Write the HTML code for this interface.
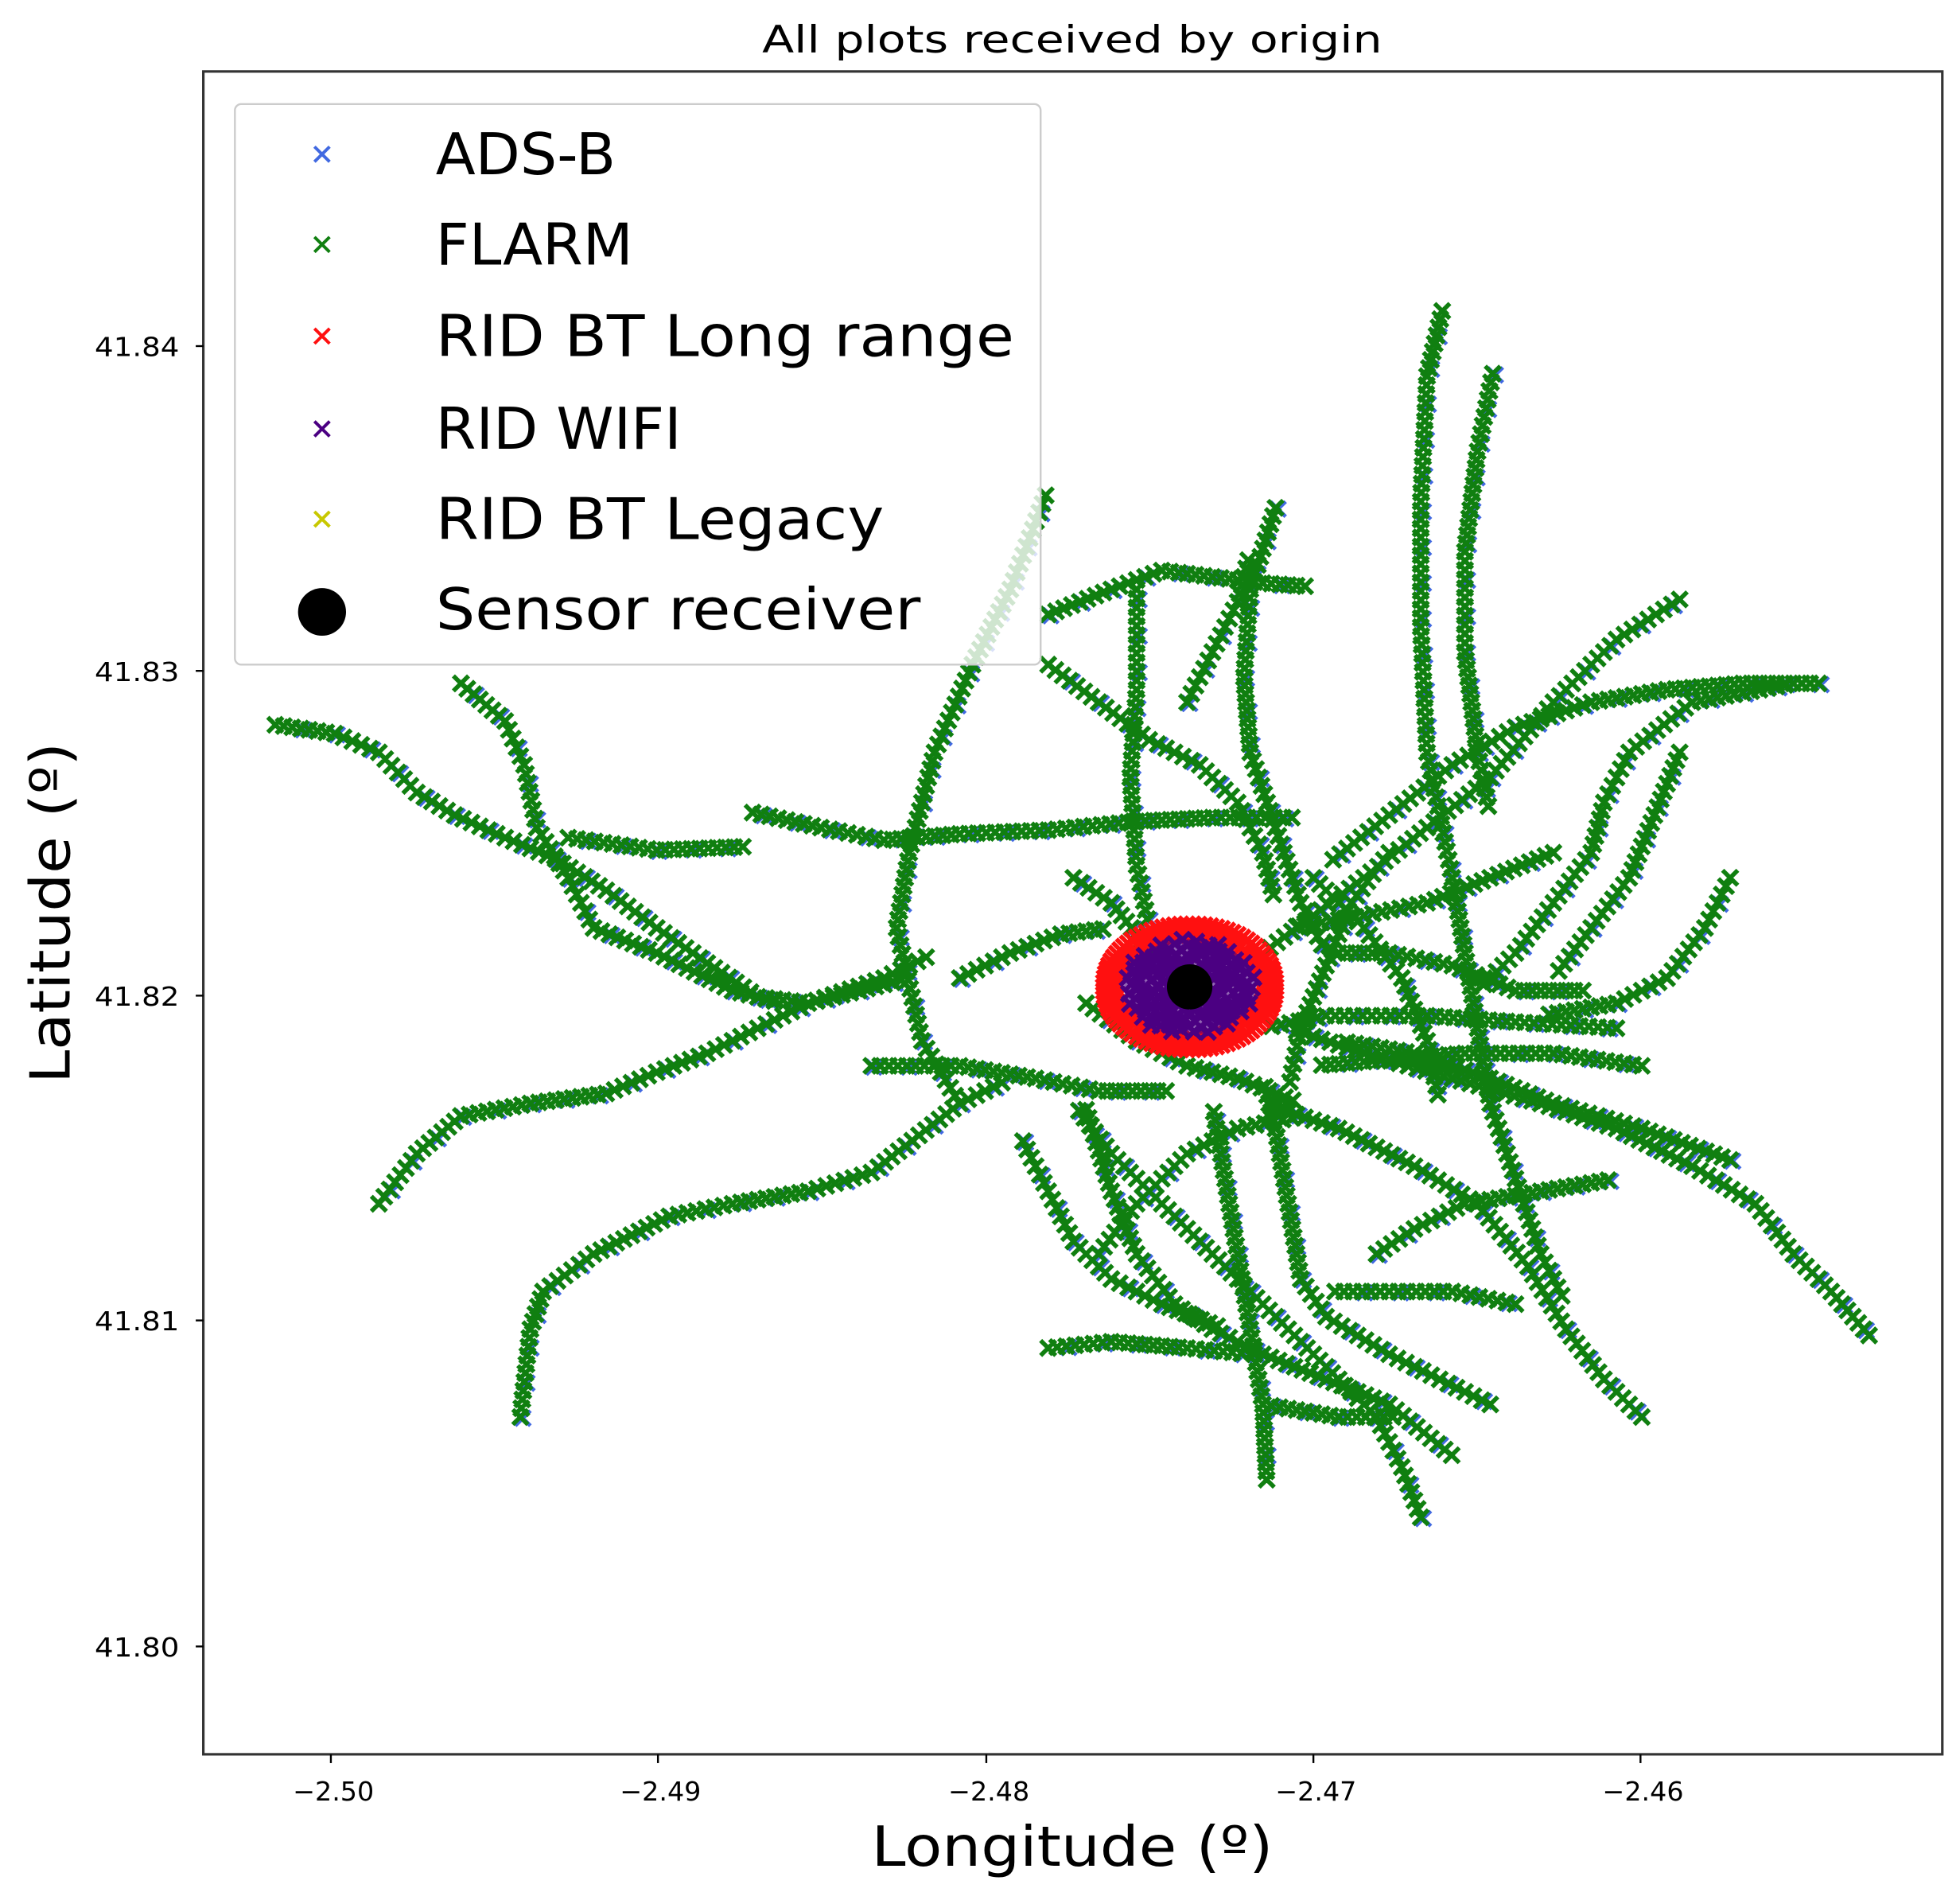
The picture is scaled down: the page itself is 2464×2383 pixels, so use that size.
<!DOCTYPE html>
<html><head><meta charset="utf-8"><style>html,body{margin:0;padding:0;background:#fff}svg{display:block}</style></head>
<body>
<svg id="s" width="2464" height="2383" viewBox="0 0 1552 1512" preserveAspectRatio="none" xmlns="http://www.w3.org/2000/svg" font-family="DejaVu Sans, Liberation Sans, sans-serif">
<rect width="1552" height="1512" fill="#fff"/>
<text x="849" y="42" font-size="30" text-anchor="middle" textLength="491" lengthAdjust="spacingAndGlyphs">All plots received by origin</text>
<g id="data"></g>
<rect x="161" y="57" width="1377" height="1342" fill="none" stroke="#333" stroke-width="2"/>
<g stroke="#000" stroke-width="1.5">
<line x1="155" y1="276" x2="161" y2="276"/><line x1="155" y1="535" x2="161" y2="535"/><line x1="155" y1="794" x2="161" y2="794"/><line x1="155" y1="1053" x2="161" y2="1053"/><line x1="155" y1="1313" x2="161" y2="1313"/>
<line x1="262" y1="1399" x2="262" y2="1406"/><line x1="521" y1="1399" x2="521" y2="1406"/><line x1="781" y1="1399" x2="781" y2="1406"/><line x1="1040" y1="1399" x2="1040" y2="1406"/><line x1="1299" y1="1399" x2="1299" y2="1406"/>
</g>
<g font-size="21" text-anchor="end">
<text x="142" y="284" textLength="67" lengthAdjust="spacingAndGlyphs">41.84</text>
<text x="142" y="543" textLength="67" lengthAdjust="spacingAndGlyphs">41.83</text>
<text x="142" y="802" textLength="67" lengthAdjust="spacingAndGlyphs">41.82</text>
<text x="142" y="1061" textLength="67" lengthAdjust="spacingAndGlyphs">41.81</text>
<text x="142" y="1321" textLength="67" lengthAdjust="spacingAndGlyphs">41.80</text>
</g>
<g font-size="21" text-anchor="middle">
<text x="264" y="1436">−2.50</text><text x="523" y="1436">−2.49</text><text x="783" y="1436">−2.48</text><text x="1042" y="1436">−2.47</text><text x="1301" y="1436">−2.46</text>
</g>
<text x="849" y="1488" font-size="44" text-anchor="middle" textLength="318" lengthAdjust="spacingAndGlyphs">Longitude (º)</text>
<text transform="translate(55,728) rotate(-90)" font-size="44" text-anchor="middle" textLength="272" lengthAdjust="spacingAndGlyphs">Latitude (º)</text>
<rect x="186" y="83" width="638" height="447" rx="5" fill="#fff" fill-opacity="0.8" stroke="#ccc" stroke-width="1.5"/>
<g stroke-width="2.5">
<path d="M249,117l12,12M261,117l-12,12" stroke="#4169e1"/>
<path d="M249,189l12,12M261,189l-12,12" stroke="#107f10"/>
<path d="M249,262l12,12M261,262l-12,12" stroke="#ff1010"/>
<path d="M249,336l12,12M261,336l-12,12" stroke="#4b0082"/>
<path d="M249,408l12,12M261,408l-12,12" stroke="#c8c800"/>
</g>
<ellipse cx="255" cy="488" rx="19" ry="19" fill="#000"/>
<g font-size="46">
<text x="345" y="139">ADS-B</text>
<text x="345" y="211">FLARM</text>
<text x="345" y="284" textLength="458" lengthAdjust="spacingAndGlyphs">RID BT Long range</text>
<text x="345" y="358">RID WIFI</text>
<text x="345" y="430" textLength="355" lengthAdjust="spacingAndGlyphs">RID BT Legacy</text>
<text x="345" y="502" textLength="384" lengthAdjust="spacingAndGlyphs">Sensor receiver</text>
</g>
</svg>
<script>
var P=[
[[218,578],[265,585],[300,600],[330,632],[360,650],[400,668],[440,685],[480,710],[520,740],[560,768],[600,795],[640,800],[680,790],[720,780]],
[[300,960],[330,920],[365,890],[420,880],[480,872],[520,855],[560,840],[600,820],[640,800],[700,780],[740,760]],
[[412,1130],[420,1060],[430,1030],[470,1000],[530,970],[580,960],[640,950],[690,935],[760,880],[800,860]],
[[365,545],[400,575],[415,610],[425,660],[450,700],[470,740],[520,760],[580,790],[620,800]],
[[450,668],[520,678],[595,675]],
[[596,648],[650,660],[700,670],[760,665],[830,662],[900,655],[960,652],[1030,652]],
[[828,395],[800,470],[770,530],[740,600],[720,680],[710,740],[730,830],[760,880]],
[[830,490],[880,470],[920,455],[960,460],[1000,465],[1040,468]],
[[1010,405],[990,470],[985,540],[990,600],[1010,660],[1030,720],[1050,760]],
[[1142,248],[1130,300],[1125,400],[1125,500],[1130,600],[1140,650],[1150,700],[1160,760],[1170,820],[1180,880],[1200,940],[1220,1000],[1240,1040]],
[[1182,298],[1170,360],[1160,440],[1160,520],[1170,600],[1180,650]],
[[1330,478],[1280,510],[1230,560],[1180,620],[1130,660],[1080,700],[1040,730],[1000,760]],
[[1440,545],[1380,545],[1320,550],[1260,560],[1200,580],[1150,610],[1100,650],[1050,690]],
[[1420,545],[1340,560],[1290,600],[1270,640],[1260,680],[1230,720],[1200,760],[1170,790]],
[[1480,1065],[1450,1030],[1420,1000],[1390,960],[1340,930],[1280,900],[1220,880],[1150,860],[1080,840],[1020,820]],
[[1300,1130],[1270,1100],[1240,1060],[1210,1010],[1170,960],[1120,930],[1060,900],[1000,880]],
[[1125,1210],[1110,1170],[1090,1130],[1060,1100],[1030,1070],[1000,1040],[960,1000],[920,960],[880,920],[850,880]],
[[1003,1180],[1000,1120],[990,1060],[980,1000],[970,940],[960,880]],
[[830,1075],[880,1070],[940,1075],[990,1080]],
[[860,885],[880,950],[900,1000],[930,1040],[960,1060],[1000,1080],[1050,1100],[1100,1120],[1155,1165]],
[[1180,1120],[1140,1100],[1100,1080],[1050,1050],[1030,1020],[1020,960],[1010,900],[1000,860]],
[[810,910],[830,950],[850,990],[880,1020],[920,1040],[970,1060]],
[[1370,925],[1300,900],[1230,880],[1180,860],[1120,840],[1060,830]],
[[1280,820],[1200,815],[1130,810],[1050,810],[1000,820]],
[[1300,850],[1230,840],[1160,840],[1100,845],[1040,850]],
[[690,850],[760,850],[820,860],[870,870],[930,870]],
[[850,700],[880,720],[900,745],[910,770]],
[[830,530],[870,560],[910,590],[950,610],[980,640],[1000,680],[1010,720]],
[[900,470],[900,550],[895,620],[900,690],[910,740]],
[[1230,680],[1180,700],[1130,720],[1080,730],[1020,740]],
[[1370,700],[1350,740],[1320,780],[1280,800],[1220,810]],
[[1330,600],[1310,650],[1290,700],[1260,740],[1230,780]],
[[1000,1120],[1060,1130],[1110,1130]],
[[1200,1040],[1150,1030],[1100,1030],[1050,1030]],
[[1040,700],[1080,740],[1110,780],[1130,830],[1140,880]],
[[1100,680],[1070,720],[1050,770],[1030,820],[1020,870]],
[[760,780],[800,760],[840,745],[880,740]],
[[1060,760],[1100,760],[1150,770],[1200,790],[1260,790]],
[[870,1000],[900,960],[940,920],[980,900],[1030,890]],
[[1090,1000],[1120,980],[1160,960],[1220,950],[1280,940]],
[[860,800],[900,830],[940,850],[980,860],[1030,880]],
[[940,560],[960,520],[980,480],[990,440]]
];
var g='',b='';
function X(x,y,s){return 'M'+(x-s)+','+(y-s)+'l'+(2*s)+','+(2*s)+'M'+(x+s)+','+(y-s)+'l'+(-2*s)+','+(2*s);}
var k=0;
P.forEach(function(p){for(var i=0;i<p.length-1;i++){var a=p[i],c=p[i+1],dx=c[0]-a[0],dy=c[1]-a[1],L=Math.hypot(dx,dy),n=Math.max(1,Math.round(L/7));for(var j=0;j<n;j++){var x=a[0]+dx*j/n,y=a[1]+dy*j/n;k++;if(k%4==0)b+=X(x+2,y+1,6);g+=X(x,y,6);}}});
var r='',pu='';
for(var t=0;t<360;t+=4){var a=t*Math.PI/180;r+=X(942+68*Math.cos(a),787+50*Math.sin(a),6);r+=X(942+60*Math.cos(a),787+42*Math.sin(a),6);}
for(var i=0;i<160;i++){var a=i*2.39996,rr=Math.sqrt(i/160);pu+=X(942+52*rr*Math.cos(a),787+38*rr*Math.sin(a),6);}
document.getElementById('data').innerHTML=
'<path d="'+b+'" stroke="#4169e1" stroke-width="3" fill="none"/>'+
'<path d="'+g+'" stroke="#107f10" stroke-width="3.5" fill="none"/>'+
'<path d="'+r+'" stroke="#ff1010" stroke-width="3.5" fill="none"/>'+
'<path d="'+pu+'" stroke="#4b0082" stroke-width="3.5" fill="none"/>'+
'<ellipse cx="942" cy="787" rx="52" ry="38" fill="#4b0082" opacity="0.6"/>'+
'<ellipse cx="942" cy="787" rx="18" ry="18" fill="#000"/>';
</script>
</body></html>
